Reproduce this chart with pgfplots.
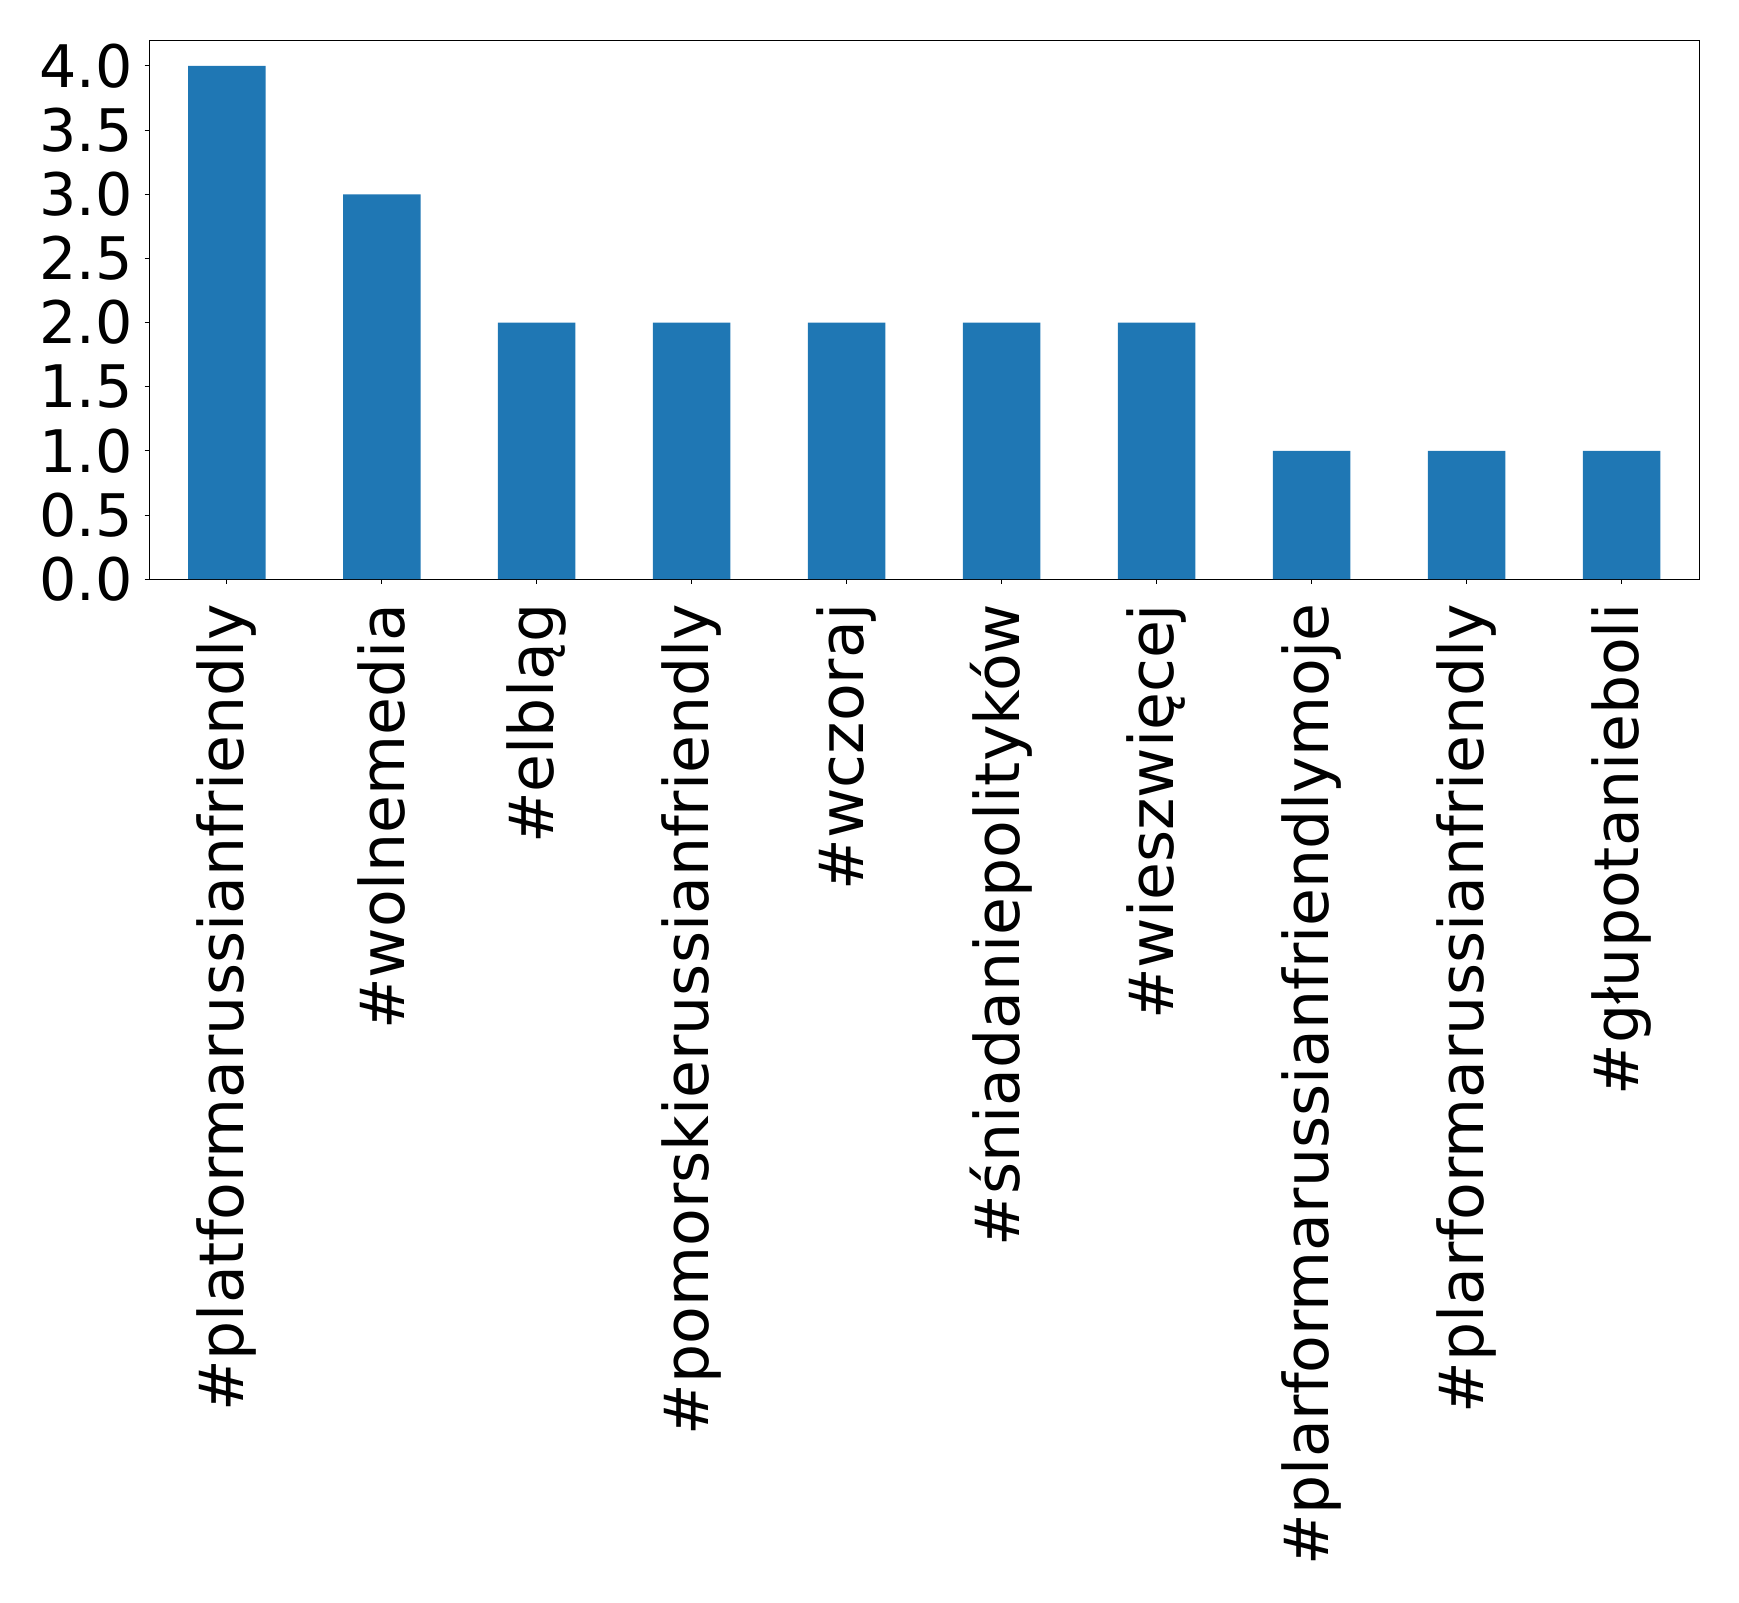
\documentclass[border=0pt]{standalone}
\usepackage{pgfplots}
\pgfplotsset{compat=1.18}
\usepackage{fontspec}
\setmainfont{DejaVu Sans}
\definecolor{mplblue}{HTML}{1F77B4}

\begin{document}
\begin{tikzpicture}
	% page size fixed to reference proportions (1px = 0.3pt)
	\useasboundingbox (-44.8pt,-307.1pt) rectangle (477pt,173.8pt);
	\begin{axis}[
		at={(0,0)}, anchor=south west,
		width=465pt, height=161.7pt,
		scale only axis,
		xmin=-0.5, xmax=9.5,
		ymin=0, ymax=4.2,
		ytick={0,0.5,1,1.5,2,2.5,3,3.5,4},
		xtick=data,
		xticklabels={\#platformarussianfriendly,\#wolnemedia,\#elbląg,
			\#pomorskierussianfriendly,\#wczoraj,\#śniadaniepolityków,
			\#wieszwięcej,\#plarformarussianfriendlymoje,
			\#plarformarussianfriendly,\#głupotanieboli},
		xticklabel style={rotate=90, anchor=east, inner sep=0pt, xshift=-5.8pt,
			font=\fontsize{18.5}{21}\selectfont},
		yticklabel style={inner sep=0pt, xshift=-3.4pt,
			font=\fontsize{17.6}{20}\selectfont},
		yticklabel style={/pgf/number format/fixed, /pgf/number format/fixed zerofill,
			/pgf/number format/precision=1, /pgf/number format/assume math mode=true},
		tick align=outside,
		tick pos=left,
		major tick length=1.4pt,
		tick style={black, line width=0.3pt},
		axis line style={line width=0.3pt},
		]
		\addplot[ybar, bar width=0.5, fill=mplblue, draw=none] coordinates {
			(0,4) (1,3) (2,2) (3,2) (4,2) (5,2) (6,2) (7,1) (8,1) (9,1)
		};
	\end{axis}
\end{tikzpicture}
\end{document}
